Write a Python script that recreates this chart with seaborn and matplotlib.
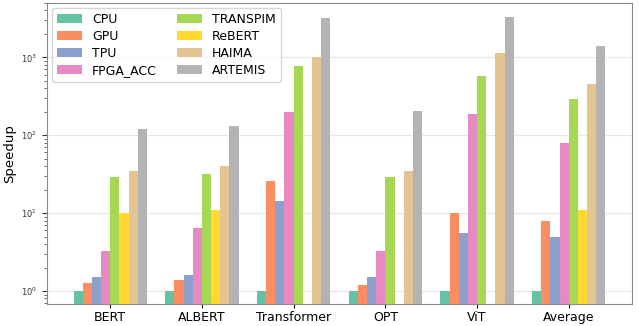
import numpy as np
import pandas as pd
import matplotlib
matplotlib.use("Agg")
import matplotlib.pyplot as plt
import seaborn as sns

models = ["BERT", "ALBERT", "Transformer", "OPT", "ViT", "Average"]
series = ["CPU", "GPU", "TPU", "FPGA_ACC", "TRANSPIM", "ReBERT", "HAIMA", "ARTEMIS"]
cpu = [1, 1, 1, 1, 1, 1]
gpu = [1.25, 1.4, 26, 1.2, 10, 8]
tpu = [1.5, 1.6, 14.5, 1.5, 5.5, 5]
fpga = [3.3, 6.5, 200, 3.3, 190, 80]
transpim = [29, 32, 780, 29, 580, 290]
rebert = [10, 11, np.nan, np.nan, np.nan, 11]
haima = [35, 40, 1000, 35, 1150, 460]
artemis = [120, 130, 3250, 205, 3300, 1400]

values = [cpu, gpu, tpu, fpga, transpim, rebert, haima, artemis]
rows = []
for s, vals in zip(series, values):
    for m, v in zip(models, vals):
        rows.append({"Model": m, "Design": s, "Speedup": v})
df = pd.DataFrame(rows)

fig = plt.figure(figsize=(6.39, 3.26), dpi=100)
ax = fig.add_axes([0.0736, 0.0675, 0.9154, 0.9235])
sns.barplot(data=df, x="Model", y="Speedup", hue="Design", order=models,
            hue_order=series, palette="Set2", width=0.8, saturation=1,
            ax=ax, errorbar=None)
ax.set_yscale("log")
ax.set_ylim(0.68, 5000)
ax.set_xlim(-0.69, 5.69)
ax.set_xlabel("")
ax.set_ylabel("Speedup", fontsize=9.5)
ax.tick_params(axis="y", which="major", labelsize=6, colors="#333333", length=3.5)
ax.tick_params(axis="y", which="minor", length=2, colors="#555555")
ax.tick_params(axis="x", labelsize=9, length=3, pad=2)
ax.grid(axis="y", which="major", color="#e6e6e6", linewidth=0.8)
ax.grid(axis="y", which="minor", visible=False)
ax.set_axisbelow(True)
for sp in ax.spines.values():
    sp.set_color("#888888")
leg = ax.legend(loc="upper left", ncol=2, fontsize=9, labelspacing=0.32,
                columnspacing=1.6, frameon=True, borderaxespad=0.4)
plt.savefig("out.png", dpi=100)
